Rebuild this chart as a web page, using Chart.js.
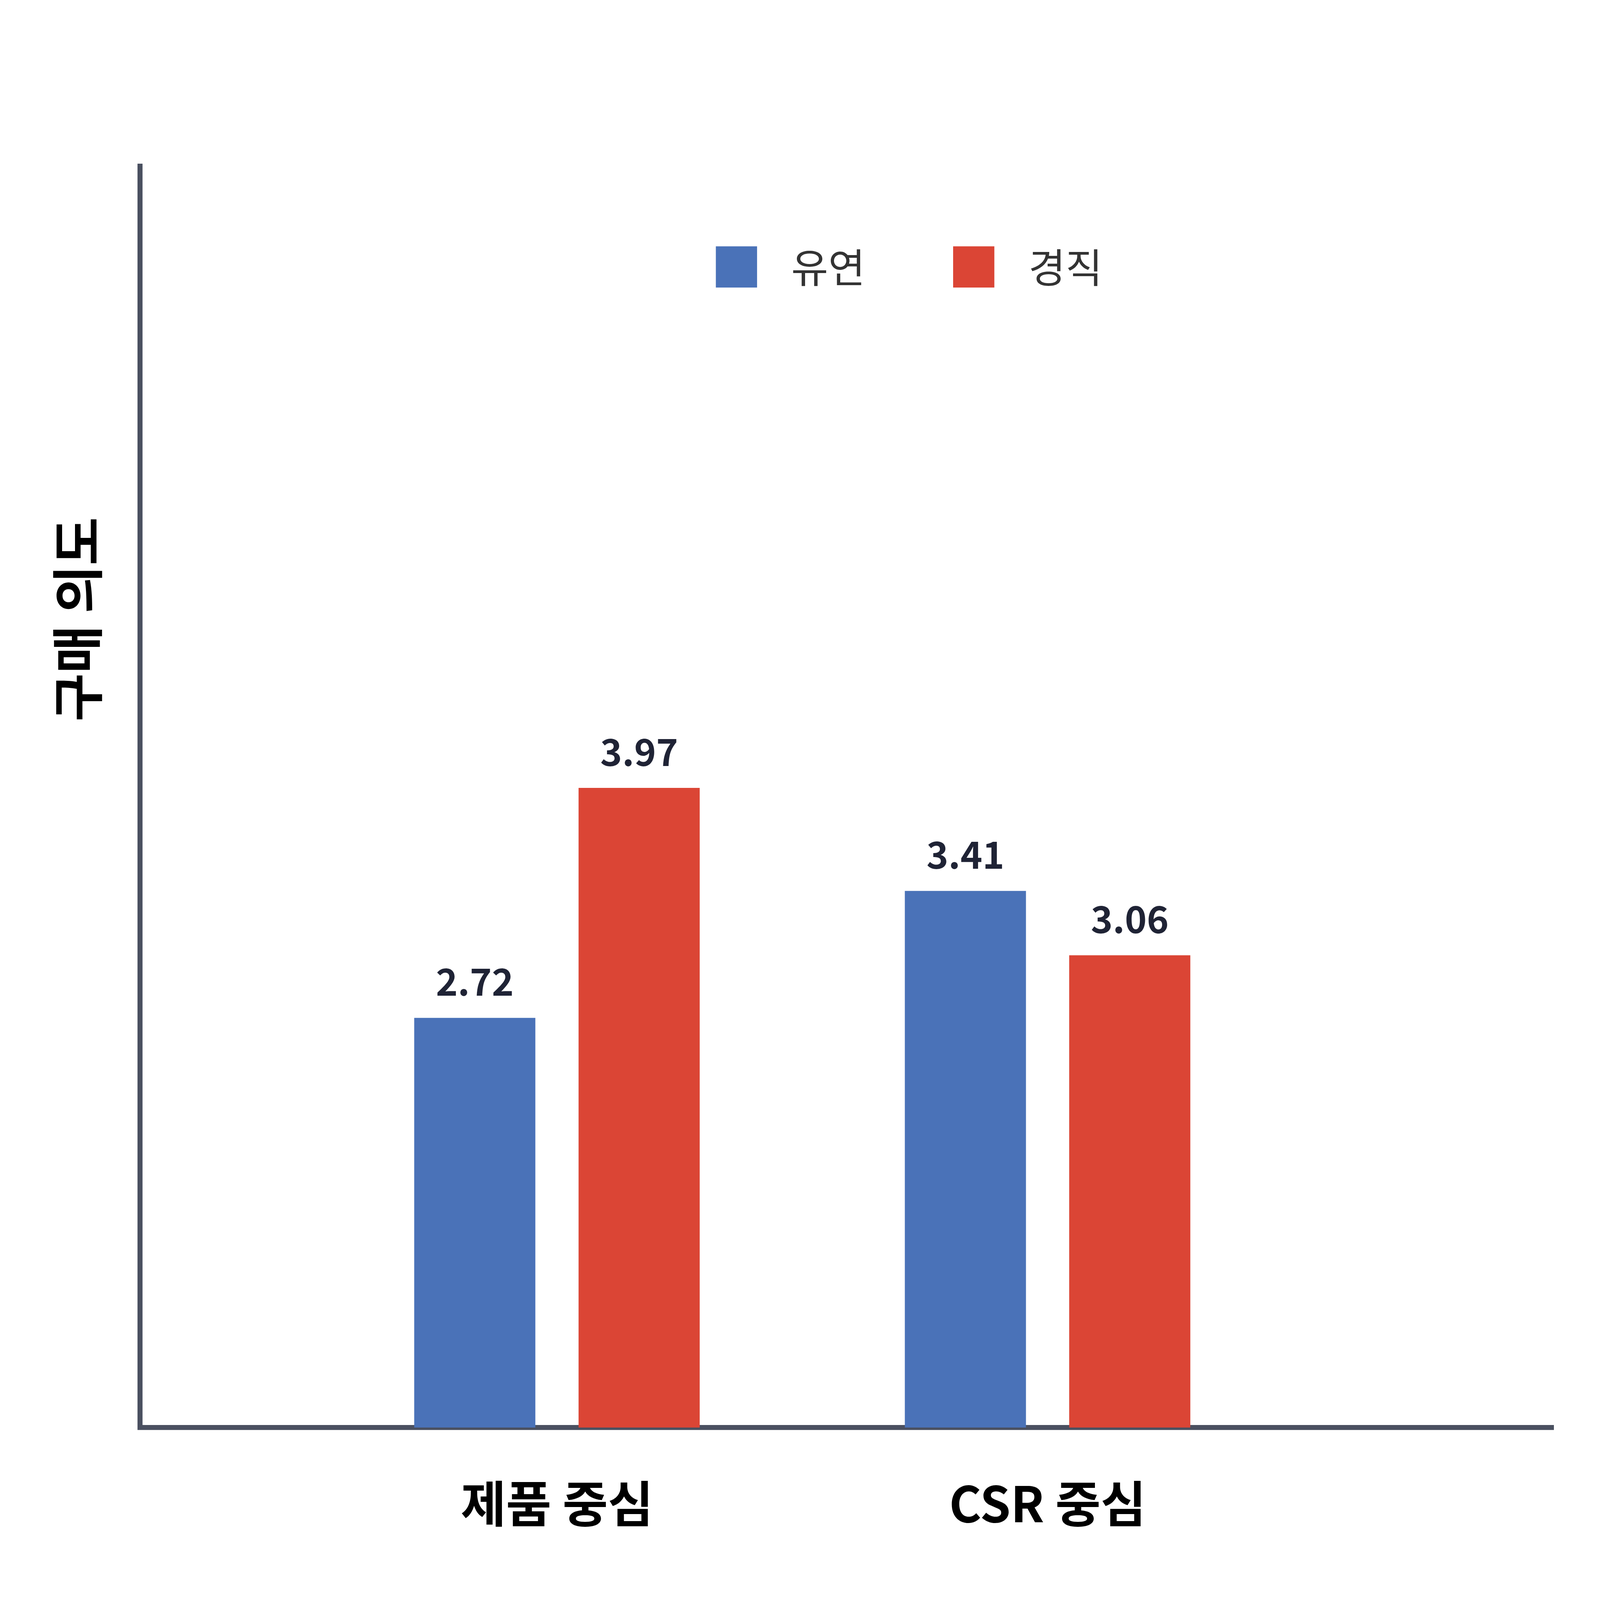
<!DOCTYPE html>
<html>
<head>
<meta charset="utf-8">
<script src="https://cdn.jsdelivr.net/npm/chart.js@4"></script>
<style>
  html, body { margin: 0; padding: 0; background: #fff; overflow: hidden; }
  #wrap { width: 100vw; height: 100vh; position: relative; }
</style>
</head>
<body>
<div id="wrap"><canvas id="chart"></canvas></div>
<script>
// Chart data
const categories = ['제품 중심', 'CSR 중심'];
const categoryPos = [0.295, 0.642];
const seriesNames = ['유연', '경직'];
const flexValues = [2.72, 3.41];
const rigidValues = [3.97, 3.06];
const seriesColors = ['#4a72b8', '#db4535'];

const FONT = '"Noto Sans CJK KR", "Noto Sans", sans-serif';
// all sizes below are designed for a 7957px wide page; k scales to CSS pixels
const k = window.innerWidth / 7957;
const s = v => v * k;

// value labels above bars
const valueLabels = {
    id: 'valueLabels',
    afterDatasetsDraw(chart) {
        const ctx = chart.ctx;
        ctx.save();
        ctx.font = 'bold ' + s(185) + 'px ' + FONT;
        ctx.fillStyle = '#1f2335';
        ctx.textAlign = 'center';
        ctx.textBaseline = 'middle';
        chart.data.datasets.forEach((ds, i) => {
            chart.getDatasetMeta(i).data.forEach((bar, j) => {
                ctx.fillText(ds.data[j].y.toFixed(2), bar.x, bar.y - s(180));
            });
        });
        ctx.restore();
    }
};

// legend inside the plot area and rotated y title
const extras = {
    id: 'extras',
    afterDraw(chart) {
        const ctx = chart.ctx;
        ctx.save();
        ctx.font = s(200) + 'px ' + FONT;
        ctx.textBaseline = 'middle';
        const legendX = [3560, 4740];
        seriesNames.forEach((name, i) => {
            ctx.fillStyle = seriesColors[i];
            ctx.fillRect(s(legendX[i]), s(1225), s(205), s(205));
            ctx.fillStyle = '#333';
            ctx.textAlign = 'left';
            ctx.fillText(name, s(legendX[i] + 375), s(1330));
        });
        ctx.translate(s(385), s(3080));
        ctx.rotate(-Math.PI / 2);
        ctx.font = 'bold ' + s(260) + 'px ' + FONT;
        ctx.fillStyle = '#000';
        ctx.textAlign = 'center';
        ctx.fillText('구매 의도', 0, 0);
        ctx.restore();
    }
};

const makeData = vals => vals.map((v, i) => ({ x: categoryPos[i], y: v }));

new Chart(document.getElementById('chart'), {
    type: 'bar',
    data: {
        datasets: [
            { label: seriesNames[0], data: makeData(flexValues), backgroundColor: seriesColors[0],
              barPercentage: 0.737, categoryPercentage: 0.67 },
            { label: seriesNames[1], data: makeData(rigidValues), backgroundColor: seriesColors[1],
              barPercentage: 0.737, categoryPercentage: 0.67 }
        ]
    },
    options: {
        responsive: true,
        maintainAspectRatio: false,
        animation: false,
        layout: { padding: { left: s(680), right: s(230), top: s(826), bottom: s(116) } },
        plugins: { legend: { display: false }, tooltip: { enabled: false } },
        scales: {
            x: {
                type: 'linear',
                min: 0,
                max: 1,
                offset: false,
                grid: { display: false },
                border: { display: true, color: '#4a5060', width: s(25) },
                afterBuildTicks: axis => { axis.ticks = categoryPos.map(v => ({ value: v })); },
                ticks: {
                    padding: s(216),
                    color: '#000',
                    font: { family: FONT, size: s(245), weight: 'bold' },
                    callback: (v) => categories[categoryPos.indexOf(v)] || ''
                }
            },
            y: {
                min: 0.493,
                max: 7.35,
                grid: { display: false },
                border: { display: true, color: '#4a5060', width: s(25) },
                ticks: { display: false }
            }
        }
    },
    plugins: [valueLabels, extras]
});
</script>
</body>
</html>
